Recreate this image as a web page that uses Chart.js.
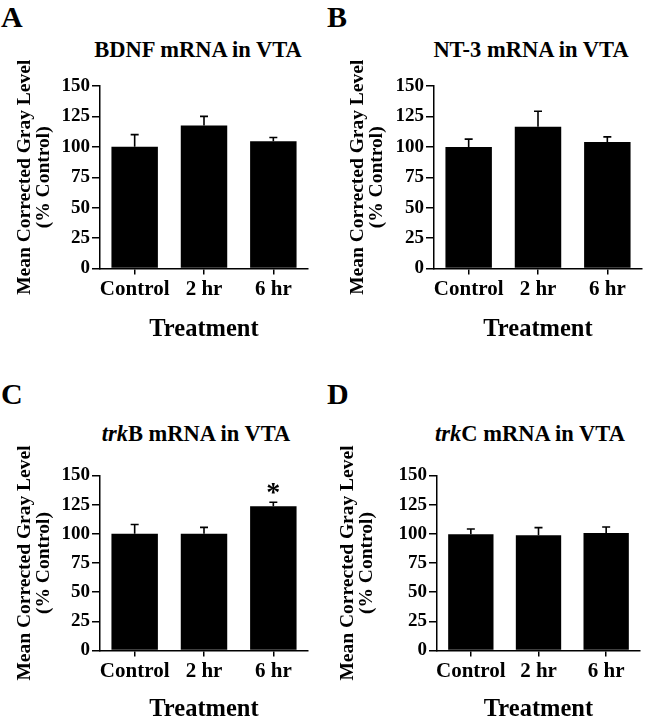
<!DOCTYPE html>
<html>
<head>
<meta charset="utf-8">
<title>VTA neurotrophin mRNA</title>
<script src="https://cdn.jsdelivr.net/npm/chart.js@4.4.1/dist/chart.umd.min.js"></script>
<style>
  html, body { margin: 0; padding: 0; background: #fff; overflow: hidden; }
  body { position: relative; width: 646px; height: 720px; font-family: "Liberation Serif", "Times New Roman", serif; color: #000; }
  canvas { position: absolute; }
  .letter { position: absolute; font-weight: bold; font-size: 30px; line-height: 30px; }
  .title { position: absolute; width: 300px; text-align: center; font-weight: bold; font-size: 22.5px; line-height: 26px; white-space: nowrap; }
</style>
</head>
<body>
<div class="letter" style="left:1px;top:2px">A</div>
<div class="letter" style="left:327px;top:2px">B</div>
<div class="letter" style="left:1px;top:379px">C</div>
<div class="letter" style="left:327px;top:379px">D</div>

<div class="title" style="left:48px;top:37px">BDNF mRNA in VTA</div>
<div class="title" style="left:381px;top:37px">NT-3 mRNA in VTA</div>
<div class="title" style="left:46px;top:421px"><i>trk</i>B mRNA in VTA</div>
<div class="title" style="left:380px;top:421px"><i>trk</i>C mRNA in VTA</div>

<canvas id="chartA" width="313" height="350" style="left:0;top:0"></canvas>
<canvas id="chartB" width="313" height="350" style="left:333px;top:0"></canvas>
<canvas id="chartC" width="313" height="340" style="left:0;top:390px"></canvas>
<canvas id="chartD" width="323" height="340" style="left:323px;top:390px"></canvas>

<script>
// data (% of control, mean and upward SEM)
const categories = ['Control', '2 hr', '6 hr'];
const yTicks = [0, 25, 50, 75, 100, 125, 150];

const bdnfMean = [100, 117.5, 104.5];
const bdnfErr = [10, 7.5, 3.2];

const nt3Mean = [99.8, 116.6, 104];
const nt3Err = [6.5, 12.6, 4.2];

const trkbMean = [100, 100, 123.6];
const trkbErr = [8, 5.5, 3.5];
const trkbMarks = ['', '', '*'];

const trkcMean = [99.6, 98.7, 100.7];
const trkcErr = [4.6, 6.6, 5.2];

Chart.defaults.font.family = '"Liberation Serif", "Times New Roman", serif';
Chart.defaults.color = '#000';

// draws the one-sided error bars and significance marks
const errorBars = {
  id: 'errorBars',
  afterDatasetsDraw(chart, args, opts) {
    const ctx = chart.ctx;
    const y = chart.scales.y;
    const meta = chart.getDatasetMeta(0);
    const values = chart.data.datasets[0].data;
    ctx.save();
    ctx.strokeStyle = '#000';
    ctx.fillStyle = '#000';
    ctx.lineWidth = 1.6;
    meta.data.forEach((bar, i) => {
      const top = y.getPixelForValue(values[i] + opts.errors[i]);
      ctx.beginPath();
      ctx.moveTo(bar.x, bar.y);
      ctx.lineTo(bar.x, top);
      ctx.moveTo(bar.x - 4, top);
      ctx.lineTo(bar.x + 4, top);
      ctx.stroke();
      if (opts.marks && opts.marks[i]) {
        ctx.font = 'bold 28px "Liberation Serif", serif';
        ctx.textAlign = 'center';
        ctx.textBaseline = 'alphabetic';
        ctx.fillText(opts.marks[i], bar.x, top - 1);
      }
    });
    ctx.restore();
  }
};

function makeChart(id, mean, err, marks, axisW, areaTop, xAxisH, areaW) {
  const canvas = document.getElementById(id);
  return new Chart(canvas, {
    type: 'bar',
    data: {
      labels: categories,
      datasets: [{
        data: mean,
        backgroundColor: '#000',
        borderWidth: 0,
        barPercentage: 0.67,
        categoryPercentage: 1
      }]
    },
    options: {
      responsive: false,
      animation: false,
      layout: { padding: { top: areaTop, left: 0, bottom: 0, right: canvas.width - axisW - areaW } },
      plugins: {
        legend: { display: false },
        tooltip: { enabled: false },
        errorBars: { errors: err, marks: marks }
      },
      scales: {
        x: {
          grid: { display: true, offset: false, drawOnChartArea: false, tickLength: 6, color: '#000', lineWidth: 1.5 },
          border: { display: true, color: '#000', width: 1.5 },
          ticks: { color: '#000', font: { size: 21, weight: 'bold' }, padding: 2, maxRotation: 0, autoSkip: false },
          title: {
            display: true,
            text: 'Treatment',
            color: '#000',
            font: { size: 24.5, weight: 'bold', lineHeight: 1.2 },
            padding: { top: 0, bottom: 6 }
          },
          afterFit: s => { s.height = xAxisH; }
        },
        y: {
          min: 0,
          max: 150,
          afterBuildTicks: s => { s.ticks = yTicks.map(v => ({ value: v })); },
          grid: { drawOnChartArea: false, tickLength: 8, color: '#000', lineWidth: 1.5 },
          border: { display: true, color: '#000', width: 1.5 },
          ticks: { color: '#000', font: { size: 19, weight: 'bold' }, padding: 2, autoSkip: false },
          title: {
            display: true,
            text: ['Mean Corrected Gray Level', '(% Control)'],
            color: '#000',
            font: { size: 19.5, weight: 'bold', lineHeight: 0.98 },
            padding: { top: 15.5, bottom: 0 }
          },
          afterFit: s => { s.width = axisW; }
        }
      }
    },
    plugins: [errorBars]
  });
}

makeChart('chartA', bdnfMean, bdnfErr, null, 100, 86, 81.5, 208);
makeChart('chartB', nt3Mean, nt3Err, null, 101, 86, 81.5, 208);
makeChart('chartC', trkbMean, trkbErr, trkbMarks, 100, 85.5, 79.5, 208);
makeChart('chartD', trkcMean, trkcErr, null, 114, 85.5, 79.5, 203);
</script>
</body>
</html>
